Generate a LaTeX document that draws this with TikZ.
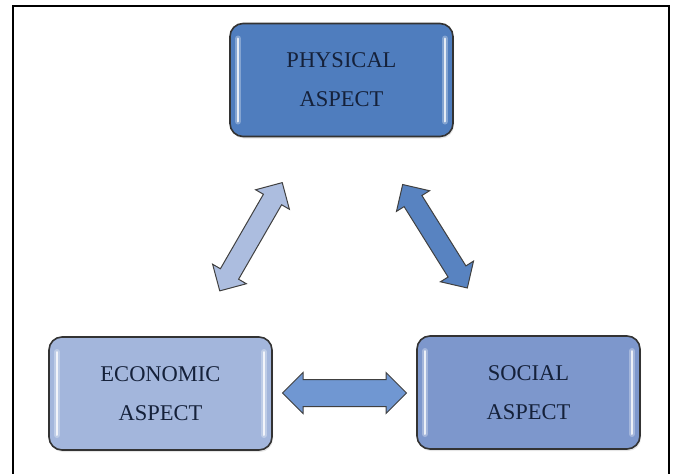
\documentclass[tikz,border=0pt]{standalone}
\usepackage{fontspec}
\setmainfont{Liberation Serif}
\usetikzlibrary{shapes.arrows,shadows,calc}

\definecolor{physblue}{HTML}{4F7DBE}
\definecolor{econblue}{HTML}{A3B6DC}
\definecolor{socblue}{HTML}{7D97CC}
\definecolor{linkblue}{HTML}{7097D2}
\definecolor{inkblue}{HTML}{15213A}

\begin{document}
\begin{tikzpicture}[x=1pt, y=-1pt,
  glint/.style={white, line cap=round},
  aspect/.style={rectangle, rounded corners=13pt, draw=black!80, line width=1.6pt,
    minimum width=223pt, minimum height=113pt, align=center, text=inkblue,
    font=\fontsize{22.5}{39}\selectfont,
    drop shadow={opacity=0.2, shadow xshift=1pt, shadow yshift=-2pt},
    path picture={
      \foreach \side/\dx in {west/8pt, east/-8pt} {
        \draw[glint, opacity=0.3, line width=6pt]
          ([xshift=\dx, yshift=-15pt]path picture bounding box.north \side) --
          ([xshift=\dx, yshift=15pt]path picture bounding box.south \side);
        \draw[glint, opacity=0.8, line width=2pt]
          ([xshift=\dx, yshift=-15pt]path picture bounding box.north \side) --
          ([xshift=\dx, yshift=15pt]path picture bounding box.south \side);
      }
    }},
  link/.style={double arrow, draw=black!75, line width=1pt, inner xsep=0pt}
]
\useasboundingbox (0,0) rectangle (675,474);
% outer frame
\draw[line width=1.2pt] (13,6) rectangle (669,480);

% the three aspects
\node[aspect, fill=physblue] (physical) at (341.5,80) {PHYSICAL\\ASPECT};
\node[aspect, fill=econblue] (economic) at (160.5,393.5) {ECONOMIC\\ASPECT};
\node[aspect, fill=socblue] (social) at (528.5,392.5) {SOCIAL\\ASPECT};

% two-way links between them
\node[link, fill=econblue!90, inner ysep=10pt, double arrow head extend=9pt,
  minimum height=125pt, rotate=60] (physecon) at ($(physical)!0.5!(economic)$) {};
\node[link, fill=physblue!95!white, inner ysep=10pt, double arrow head extend=9pt,
  minimum height=122pt, rotate=-58] (physsoc) at ($(physical)!0.5!(social)$) {};
\node[link, fill=linkblue, inner ysep=13pt, double arrow head extend=7pt,
  minimum height=124pt] (econsoc) at ($(economic)!0.5!(social)$) {};
\end{tikzpicture}
\end{document}
